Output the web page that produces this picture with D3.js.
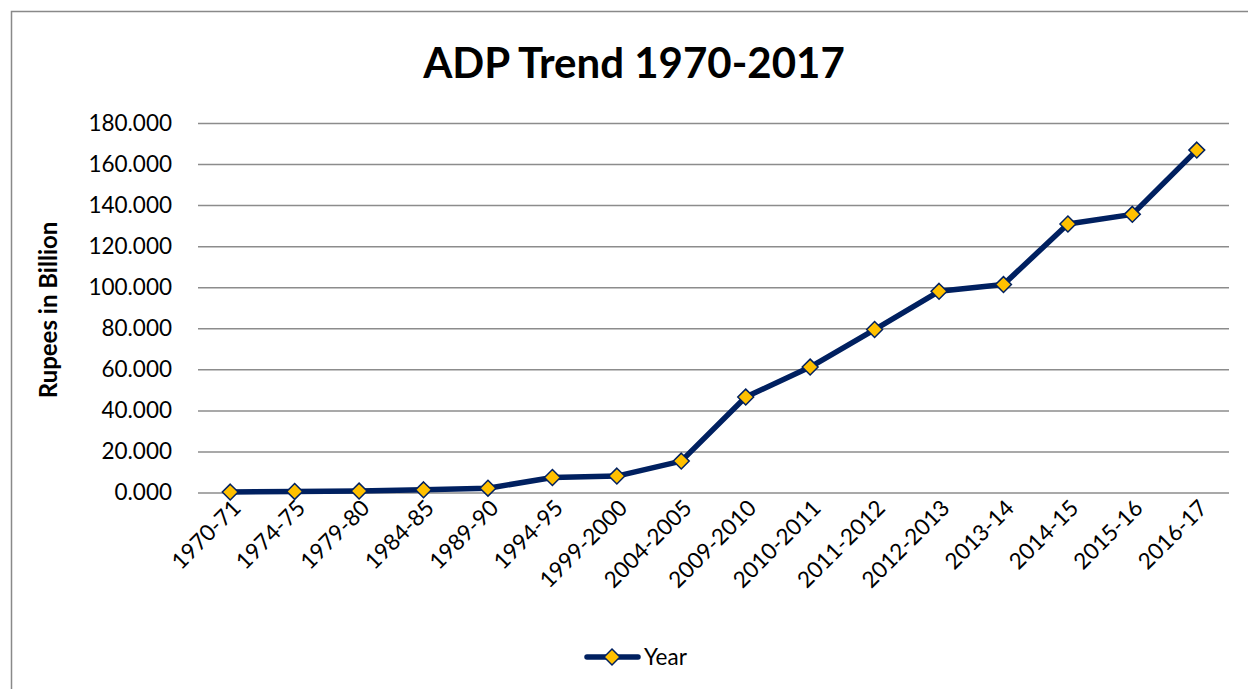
<!DOCTYPE html>
<html>
<head>
<meta charset="utf-8">
<script src="https://cdn.jsdelivr.net/npm/d3@7"></script>
<style>
  html, body { margin: 0; padding: 0; background: #fff; }
  svg { display: block; }
  text { font-family: Lato, "Open Sans", "Noto Sans", sans-serif; fill: #000; }
</style>
</head>
<body>
<svg id="chart" width="1248" height="689"></svg>
<script>
// ADP allocation per fiscal year, rupees in billion
const years = ["1970-71", "1974-75", "1979-80", "1984-85", "1989-90", "1994-95",
  "1999-2000", "2004-2005", "2009-2010", "2010-2011", "2011-2012", "2012-2013",
  "2013-14", "2014-15", "2015-16", "2016-17"];
const adpValues = [0.2, 0.5, 0.7, 1.3, 2.1, 7.3, 8.0, 15.3, 46.5, 61.1, 79.4, 98.0,
  101.3, 130.8, 135.5, 166.8];
const yTicks = [0, 20, 40, 60, 80, 100, 120, 140, 160, 180];
const seriesName = "Year";
const titleText = "ADP Trend 1970-2017";
const yTitle = "Rupees in Billion";

const svg = d3.select("#chart");
const navy = "#002060", gold = "#FFC000";
const fontStack = "Lato, 'Open Sans', sans-serif";

// chart frame
svg.append("rect")
  .attr("x", 11.5).attr("y", 11.5)
  .attr("width", 1260).attr("height", 700)
  .attr("fill", "none").attr("stroke", "#898989").attr("stroke-width", 1.5);

const plot = { left: 198, right: 1229, top: 123, bottom: 492.5 };

const x = d3.scaleBand().domain(years).range([plot.left, plot.right]);
const y = d3.scaleLinear().domain([0, 180]).range([plot.bottom, plot.top]);

// title
svg.append("text")
  .attr("x", 634).attr("y", 78)
  .attr("text-anchor", "middle")
  .style("font-size", "42px").style("font-weight", "bold")
  .text(titleText);

// horizontal gridlines + y tick labels
const yAxis = d3.axisLeft(y).tickValues(yTicks).tickSize(-(plot.right - plot.left))
  .tickPadding(26).tickFormat(d3.format(".3f"));
const gy = svg.append("g").attr("transform", `translate(${plot.left},0)`).call(yAxis);
gy.select(".domain").remove();
gy.selectAll(".tick line").attr("stroke", "#8c8c8c").attr("stroke-width", 1.5);
gy.selectAll(".tick text").style("font-size", "22.5px").attr("fill", "#000")
  .style("font-family", fontStack);

// x axis labels, rotated
const xAxis = d3.axisBottom(x).tickSize(0).tickPadding(0);
const gx = svg.append("g").attr("transform", `translate(0,${plot.bottom})`).call(xAxis);
gx.select(".domain").remove();
gx.selectAll(".tick text")
  .style("font-size", "22.5px").attr("fill", "#000")
  .style("font-family", fontStack)
  .attr("text-anchor", "end")
  .attr("dy", null).attr("y", 0)
  .attr("transform", "translate(12,17) rotate(-45)");

// y axis title
svg.append("text")
  .attr("transform", "translate(57,310) rotate(-90)")
  .attr("text-anchor", "middle")
  .style("font-size", "24px").style("font-weight", "bold")
  .text(yTitle);

// series line
const line = d3.line()
  .x((d, i) => x(years[i]) + x.bandwidth() / 2)
  .y(d => y(d));
svg.append("path")
  .datum(adpValues)
  .attr("d", line)
  .attr("fill", "none").attr("stroke", navy).attr("stroke-width", 5.5)
  .attr("stroke-linejoin", "round").attr("stroke-linecap", "round");

// diamond markers
const diamond = d3.symbol().type(d3.symbolDiamond2).size(160);
svg.append("g").selectAll("path")
  .data(adpValues)
  .join("path")
  .attr("d", diamond)
  .attr("transform", (d, i) => `translate(${x(years[i]) + x.bandwidth() / 2},${y(d)})`)
  .attr("fill", gold).attr("stroke", navy).attr("stroke-width", 1.5);

// legend
const lg = svg.append("g").attr("transform", "translate(0,657)");
lg.append("line").attr("x1", 587).attr("x2", 638).attr("y1", 0).attr("y2", 0)
  .attr("stroke", navy).attr("stroke-width", 5.5).attr("stroke-linecap", "round");
lg.append("path").attr("d", diamond)
  .attr("transform", "translate(612,0)")
  .attr("fill", gold).attr("stroke", navy).attr("stroke-width", 1.5);
lg.append("text").attr("x", 644).attr("y", 8).style("font-size", "22.5px").text(seriesName);
</script>
</body>
</html>
